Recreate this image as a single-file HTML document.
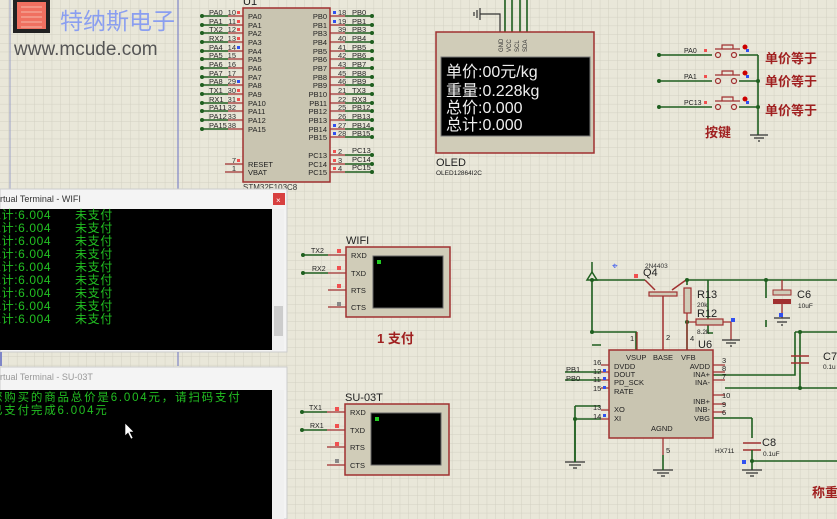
<!DOCTYPE html>
<html><head><meta charset="utf-8"><style>
html,body{margin:0;padding:0;width:837px;height:519px;overflow:hidden;background:#e9e7d9}
svg{display:block}
text{font-family:"Liberation Sans","Noto Sans CJK SC",sans-serif}
.s{font-size:8px;fill:#222}
.n{font-size:8px;fill:#333}
.g{stroke:#1f5f1f;stroke-width:1.6;fill:none}
.r{stroke:#a03030;stroke-width:1.3;fill:none}
.t{font-family:"Liberation Mono","Noto Sans CJK SC",monospace;font-size:12px;fill:#22c022}
</style></head><body>
<svg width="837" height="519" viewBox="0 0 837 519" xmlns="http://www.w3.org/2000/svg">
<defs>
<pattern id="grid" width="8.7" height="8.7" patternUnits="userSpaceOnUse">
<path d="M8.7 0V8.7H0" fill="none" stroke="#d2d0c2" stroke-width="1"/>
</pattern>
</defs>
<rect width="837" height="519" fill="#e9e7d9"/>
<rect width="837" height="519" fill="url(#grid)"/>
<line x1="178" y1="0" x2="178" y2="190" stroke="#7f86c8" stroke-width="1.2"/>
<line x1="10" y1="0" x2="10" y2="190" stroke="#9aa0c8" stroke-width="1"/>

<!-- logo -->
<rect x="13" y="0" width="37" height="33" fill="#222"/>
<rect x="17" y="2" width="29" height="27" fill="#f07060"/>
<path d="M21 7H42M21 12H42M21 17H42M21 22H42M21 27H42" stroke="#f4a090" stroke-width="1.5"/>
<text x="60" y="29" style="font-size:23px;fill:#8a9ef0">特纳斯电子</text>
<text x="14" y="55" style="font-size:19px;fill:#555">www.mcude.com</text>

<!-- STM32 -->
<text x="243" y="5" style="font-size:11px;fill:#222">U1</text>
<rect x="243" y="8" width="87" height="174" fill="#c9c5b1" stroke="#a03030" stroke-width="1.5"/>
<g>
<path class="g" d="M202 16H228M202 25H228M202 33H228M202 42H228M202 51H228M202 59H228M202 68H228M202 77H228M202 85H228M202 94H228M202 103H228M202 111H228M202 120H228M202 129H228"/>
<path class="r" d="M228 16H243M228 25H243M228 33H243M228 42H243M228 51H243M228 59H243M228 68H243M228 77H243M228 85H243M228 94H243M228 103H243M228 111H243M228 120H243M228 129H243M225 164H243M225 172H243"/>
<g fill="#1f5f1f"><circle cx="202" cy="16" r="2"/><circle cx="202" cy="25" r="2"/><circle cx="202" cy="33" r="2"/><circle cx="202" cy="42" r="2"/><circle cx="202" cy="51" r="2"/><circle cx="202" cy="59" r="2"/><circle cx="202" cy="68" r="2"/><circle cx="202" cy="77" r="2"/><circle cx="202" cy="85" r="2"/><circle cx="202" cy="94" r="2"/><circle cx="202" cy="103" r="2"/><circle cx="202" cy="111" r="2"/><circle cx="202" cy="120" r="2"/><circle cx="202" cy="129" r="2"/></g>
<g class="s" style="font-size:7.5px">
<text x="209" y="15">PA0</text><text x="209" y="24">PA1</text><text x="209" y="32">TX2</text><text x="209" y="41">RX2</text><text x="209" y="50">PA4</text><text x="209" y="58">PA5</text><text x="209" y="67">PA6</text><text x="209" y="76">PA7</text><text x="209" y="84">PA8</text><text x="209" y="93">TX1</text><text x="209" y="102">RX1</text><text x="209" y="110">PA11</text><text x="209" y="119">PA12</text><text x="209" y="128">PA15</text>
</g>
<g class="n" text-anchor="end" style="font-size:7.5px">
<text x="236" y="15">10</text><text x="236" y="24">11</text><text x="236" y="32">12</text><text x="236" y="41">13</text><text x="236" y="50">14</text><text x="236" y="58">15</text><text x="236" y="67">16</text><text x="236" y="76">17</text><text x="236" y="84">29</text><text x="236" y="93">30</text><text x="236" y="102">31</text><text x="236" y="110">32</text><text x="236" y="119">33</text><text x="236" y="128">38</text><text x="236" y="163">7</text><text x="236" y="171">1</text>
</g>
<g fill="#f05050"><rect x="237" y="11" width="3" height="3"/><rect x="237" y="20" width="3" height="3"/><rect x="237" y="28" width="3" height="3"/><rect x="237" y="37" width="3" height="3"/><rect x="237" y="89" width="3" height="3"/><rect x="237" y="98" width="3" height="3"/><rect x="237" y="159" width="3" height="3"/></g>
<g fill="#3050f0"><rect x="237" y="46" width="3" height="3"/><rect x="237" y="80" width="3" height="3"/></g>
<g class="s" style="font-size:7.5px">
<text x="248" y="19">PA0</text><text x="248" y="28">PA1</text><text x="248" y="36">PA2</text><text x="248" y="45">PA3</text><text x="248" y="54">PA4</text><text x="248" y="62">PA5</text><text x="248" y="71">PA6</text><text x="248" y="80">PA7</text><text x="248" y="88">PA8</text><text x="248" y="97">PA9</text><text x="248" y="106">PA10</text><text x="248" y="114">PA11</text><text x="248" y="123">PA12</text><text x="248" y="132">PA15</text><text x="248" y="167">RESET</text><text x="248" y="175">VBAT</text>
</g>
<g class="s" text-anchor="end" style="font-size:7.5px">
<text x="327" y="19">PB0</text><text x="327" y="28">PB1</text><text x="327" y="36">PB3</text><text x="327" y="45">PB4</text><text x="327" y="54">PB5</text><text x="327" y="62">PB6</text><text x="327" y="71">PB7</text><text x="327" y="80">PB8</text><text x="327" y="88">PB9</text><text x="327" y="97">PB10</text><text x="327" y="106">PB11</text><text x="327" y="114">PB12</text><text x="327" y="123">PB13</text><text x="327" y="132">PB14</text><text x="327" y="140">PB15</text><text x="327" y="158">PC13</text><text x="327" y="167">PC14</text><text x="327" y="175">PC15</text>
</g>
<path class="r" d="M330 16H345M330 25H345M330 33H345M330 42H345M330 51H345M330 59H345M330 68H345M330 77H345M330 85H345M330 94H345M330 103H345M330 111H345M330 120H345M330 129H345M330 137H345M330 155H345M330 164H345M330 172H345"/>
<path class="g" d="M345 16H372M345 25H372M345 33H372M345 42H372M345 51H372M345 59H372M345 68H372M345 77H372M345 85H372M345 94H372M345 103H372M345 111H372M345 120H372M345 129H372M345 137H372M345 155H372M345 164H372M345 172H372"/>
<g fill="#1f5f1f"><circle cx="372" cy="16" r="2"/><circle cx="372" cy="25" r="2"/><circle cx="372" cy="33" r="2"/><circle cx="372" cy="42" r="2"/><circle cx="372" cy="51" r="2"/><circle cx="372" cy="59" r="2"/><circle cx="372" cy="68" r="2"/><circle cx="372" cy="77" r="2"/><circle cx="372" cy="85" r="2"/><circle cx="372" cy="94" r="2"/><circle cx="372" cy="103" r="2"/><circle cx="372" cy="111" r="2"/><circle cx="372" cy="120" r="2"/><circle cx="372" cy="129" r="2"/><circle cx="372" cy="137" r="2"/><circle cx="372" cy="155" r="2"/><circle cx="372" cy="164" r="2"/><circle cx="372" cy="172" r="2"/></g>
<g class="n" style="font-size:7.5px">
<text x="338" y="15">18</text><text x="338" y="24">19</text><text x="338" y="32">39</text><text x="338" y="41">40</text><text x="338" y="50">41</text><text x="338" y="58">42</text><text x="338" y="67">43</text><text x="338" y="76">45</text><text x="338" y="84">46</text><text x="338" y="93">21</text><text x="338" y="102">22</text><text x="338" y="110">25</text><text x="338" y="119">26</text><text x="338" y="128">27</text><text x="338" y="136">28</text><text x="338" y="154">2</text><text x="338" y="163">3</text><text x="338" y="171">4</text>
</g>
<g class="s" style="font-size:7.5px">
<text x="352" y="15">PB0</text><text x="352" y="24">PB1</text><text x="352" y="32">PB3</text><text x="352" y="41">PB4</text><text x="352" y="50">PB5</text><text x="352" y="58">PB6</text><text x="352" y="67">PB7</text><text x="352" y="76">PB8</text><text x="352" y="84">PB9</text><text x="352" y="93">TX3</text><text x="352" y="102">RX3</text><text x="352" y="110">PB12</text><text x="352" y="119">PB13</text><text x="352" y="128">PB14</text><text x="352" y="136">PB15</text><text x="352" y="153">PC13</text><text x="352" y="162">PC14</text><text x="352" y="170">PC15</text>
</g>
<g fill="#3050f0"><rect x="333" y="11" width="3" height="3"/><rect x="333" y="20" width="3" height="3"/><rect x="333" y="124" width="3" height="3"/><rect x="333" y="132" width="3" height="3"/></g>
<g fill="#f05050"><rect x="333" y="150" width="3" height="3"/><rect x="333" y="159" width="3" height="3"/><rect x="333" y="167" width="3" height="3"/></g>
</g>
<text x="243" y="190" style="font-size:8px;fill:#333">STM32F103C8</text>

<!-- OLED -->
<path class="g" d="M505 0V32M512 0V32M520 0V32M527 0V32"/>
<path d="M480 14H500V32" stroke="#333" fill="none" stroke-width="1.2"/>
<path d="M480 8V20M477 10V18M474 12V16" stroke="#333" stroke-width="1.2"/>
<rect x="436" y="32" width="158" height="121" fill="#d0ccb8" stroke="#a03030" stroke-width="1.5"/>
<g style="font-size:6px;fill:#333"><text transform="translate(503,52) rotate(-90)">GND</text><text transform="translate(511,52) rotate(-90)">VCC</text><text transform="translate(519,52) rotate(-90)">SCL</text><text transform="translate(527,52) rotate(-90)">SDA</text></g>
<rect x="441" y="57" width="149" height="79" fill="#000" stroke="#777"/>
<g style="font-family:'Liberation Mono','Noto Sans CJK SC',monospace;font-size:16px;fill:#eee">
<text x="446" y="77">单价:00元/kg</text>
<text x="446" y="96">重量:0.228kg</text>
<text x="446" y="113">总价:0.000</text>
<text x="446" y="130">总计:0.000</text>
</g>
<text x="436" y="166" style="font-size:11px;fill:#222">OLED</text>
<text x="436" y="175" style="font-size:6.5px;fill:#222">OLED12864I2C</text>

<!-- buttons -->
<g>
<path class="g" d="M659 55H712M659 81H712M659 107H712M739 55H758M739 81H758M739 107H758M758 55V135"/>
<g fill="#1f5f1f"><circle cx="659" cy="55" r="2"/><circle cx="659" cy="81" r="2"/><circle cx="659" cy="107" r="2"/><circle cx="758" cy="81" r="2"/><circle cx="758" cy="107" r="2"/></g>
<g fill="#e9e7d9" stroke="#a03030" stroke-width="1.2">
<circle cx="718" cy="55" r="2.5"/><circle cx="734" cy="55" r="2.5"/><circle cx="718" cy="81" r="2.5"/><circle cx="734" cy="81" r="2.5"/><circle cx="718" cy="107" r="2.5"/><circle cx="734" cy="107" r="2.5"/>
<path d="M715 49H740M722 49V45H733V49M715 75H740M722 75V71H733V75M715 101H740M722 101V97H733V101" fill="none"/>
</g>
<g fill="#c00"><circle cx="745" cy="47" r="2.5"/><circle cx="745" cy="73" r="2.5"/><circle cx="745" cy="99" r="2.5"/></g>
<g fill="#3050f0"><rect x="746" y="49" width="3" height="3"/><rect x="746" y="75" width="3" height="3"/><rect x="746" y="101" width="3" height="3"/></g>
<g fill="#f05050"><rect x="704" y="49" width="3" height="3"/><rect x="704" y="75" width="3" height="3"/><rect x="704" y="101" width="3" height="3"/></g>
<g style="font-size:7px;fill:#222"><text x="684" y="53">PA0</text><text x="684" y="79">PA1</text><text x="684" y="105">PC13</text></g>
<path d="M750 135H768M754 138H764M758 141H760" stroke="#333" stroke-width="1.2"/>
<g style="font-size:13px;font-weight:bold;fill:#a02020"><text x="765" y="63">单价等于</text><text x="765" y="86">单价等于</text><text x="765" y="115">单价等于</text><text x="705" y="137">按键</text></g>
</g>

<!-- WIFI terminal -->
<text x="346" y="244" style="font-size:11px;fill:#222">WIFI</text>
<path class="g" d="M303 255H328M303 273H328"/>
<path class="r" d="M328 255H346M328 273H346M328 290H346M328 307H346"/>
<g fill="#1f5f1f"><circle cx="303" cy="255" r="2"/><circle cx="303" cy="273" r="2"/></g>
<g style="font-size:7px;fill:#222"><text x="311" y="253">TX2</text><text x="312" y="271">RX2</text></g>
<g fill="#f05050"><rect x="337" y="249" width="4" height="4"/><rect x="337" y="266" width="4" height="4"/><rect x="337" y="284" width="4" height="4"/></g>
<rect x="337" y="302" width="4" height="4" fill="#888"/>
<rect x="346" y="247" width="104" height="70" fill="#d0ccb8" stroke="#a03030" stroke-width="1.5"/>
<rect x="373" y="256" width="70" height="52" fill="#000" stroke="#666"/>
<rect x="377" y="260" width="4" height="4" fill="#2c2"/>
<g style="font-size:7.5px;fill:#222"><text x="351" y="258">RXD</text><text x="351" y="276">TXD</text><text x="351" y="293">RTS</text><text x="351" y="310">CTS</text></g>
<text x="377" y="343" style="font-size:13px;font-weight:bold;fill:#a02020">1 支付</text>

<!-- SU-03T terminal -->
<text x="345" y="401" style="font-size:11px;fill:#222">SU-03T</text>
<path class="g" d="M302 412H327M302 430H327"/>
<path class="r" d="M327 412H345M327 430H345M327 447H345M327 465H345"/>
<g fill="#1f5f1f"><circle cx="302" cy="412" r="2"/><circle cx="302" cy="430" r="2"/></g>
<g style="font-size:7px;fill:#222"><text x="309" y="410">TX1</text><text x="310" y="428">RX1</text></g>
<g fill="#f05050"><rect x="335" y="407" width="4" height="4"/><rect x="335" y="424" width="4" height="4"/><rect x="335" y="442" width="4" height="4"/></g>
<rect x="335" y="459" width="4" height="4" fill="#888"/>
<rect x="345" y="404" width="104" height="71" fill="#d0ccb8" stroke="#a03030" stroke-width="1.5"/>
<rect x="371" y="413" width="70" height="52" fill="#000" stroke="#666"/>
<rect x="375" y="417" width="4" height="4" fill="#2c2"/>
<g style="font-size:7.5px;fill:#222"><text x="350" y="415">RXD</text><text x="350" y="433">TXD</text><text x="350" y="450">RTS</text><text x="350" y="468">CTS</text></g>

<!-- HX711 area -->
<g>
<path class="g" d="M592 280V332H636V350M592 280H645M686 280H837M592 345H601M687 280V285M687 320V350M708 280V333H713M766 280V298M766 320V327M575 406V462M575 406H600M575 419H601M795 332H837M795 332V375H713M725 388H837M800 332V388M668 418H752M752 418V438M752 461H837"/>
<path class="g" d="M565 372H601M565 380H601"/>
<path d="M592 272L587 280H597Z" fill="none" stroke="#1f5f1f" stroke-width="1.5"/>
<line x1="592" y1="262" x2="592" y2="272" stroke="#1f5f1f" stroke-width="1.5"/>
<text x="612" y="269" style="font-size:10px;fill:#3050f0">⌖</text>
<text x="645" y="268" style="font-size:6.5px;fill:#333">2N4403</text>
<text x="643" y="276" style="font-size:11px;fill:#222">Q4</text>
<rect x="634" y="274" width="4" height="4" fill="#f05050"/>
<path d="M645 280L655 290M686 280L672 290" stroke="#a03030" stroke-width="1.5" fill="none"/>
<rect x="649" y="292" width="28" height="4" fill="#d0ccb8" stroke="#a03030" stroke-width="1.2"/>
<path class="r" d="M663 296V350"/>
<text x="666" y="340" style="font-size:7.5px;fill:#222">2</text>
<rect x="684" y="288" width="7" height="25" fill="#d0ccb8" stroke="#a03030" stroke-width="1.2"/>
<text x="697" y="298" style="font-size:11px;fill:#222">R13</text>
<text x="697" y="307" style="font-size:6.5px;fill:#222">20k</text>
<text x="697" y="317" style="font-size:11px;fill:#222">R12</text>
<rect x="696" y="319" width="27" height="6" fill="#d0ccb8" stroke="#a03030" stroke-width="1.2"/>
<path class="r" d="M687 322H696M723 322H731V340"/>
<path d="M722 340H740M726 343H736M730 346H732" stroke="#333" stroke-width="1.2"/>
<rect x="731" y="318" width="4" height="4" fill="#3050f0"/>
<text x="697" y="334" style="font-size:6.5px;fill:#222">8.2k</text>
<g fill="#1f5f1f"><circle cx="592" cy="280" r="2"/><circle cx="592" cy="332" r="2"/><circle cx="687" cy="280" r="2"/><circle cx="687" cy="322" r="2"/><circle cx="766" cy="280" r="2"/><circle cx="800" cy="332" r="2"/><circle cx="800" cy="388" r="2"/><circle cx="575" cy="419" r="2"/><circle cx="752" cy="461" r="2"/></g>
<rect x="773" y="290" width="18" height="5" fill="#d0ccb8" stroke="#a03030"/>
<rect x="773" y="299" width="18" height="5" fill="#a03030"/>
<path class="r" d="M782 280V290M782 304V318"/>
<path d="M774 318H790M777 322H787M781 325H783" stroke="#333" stroke-width="1.2"/>
<rect x="779" y="313" width="4" height="4" fill="#3050f0"/>
<text x="797" y="298" style="font-size:11px;fill:#222">C6</text>
<text x="798" y="308" style="font-size:6.5px;fill:#222">10uF</text>
<path d="M791 356H809M791 363H809" stroke="#a03030" stroke-width="1.5"/>
<text x="823" y="360" style="font-size:11px;fill:#222">C7</text>
<text x="823" y="369" style="font-size:6.5px;fill:#222">0.1u</text>
<text x="698" y="348" style="font-size:11px;fill:#222">U6</text>
<path class="r" d="M637 332V350M663 296V350M687 313V350M601 365H609M601 372H609M601 380H609M601 388H609M601 410H609M601 419H609M713 365H725M713 372H725M713 380H725M713 395H725M713 404H725M713 412H725M663 438V455"/>
<text x="630" y="341" style="font-size:7.5px;fill:#222">1</text>
<text x="690" y="341" style="font-size:7.5px;fill:#222">4</text>
<rect x="609" y="350" width="104" height="88" fill="#c9c5b1" stroke="#a03030" stroke-width="1.5"/>
<g style="font-size:7.5px;fill:#222">
<text x="626" y="360">VSUP</text><text x="653" y="360">BASE</text><text x="681" y="360">VFB</text>
<text x="614" y="369">DVDD</text><text x="614" y="377">DOUT</text><text x="614" y="385">PD_SCK</text><text x="614" y="394">RATE</text><text x="614" y="412">XO</text><text x="614" y="421">XI</text><text x="651" y="431">AGND</text>
<text x="710" y="369" text-anchor="end">AVDD</text><text x="710" y="377" text-anchor="end">INA+</text><text x="710" y="385" text-anchor="end">INA-</text><text x="710" y="404" text-anchor="end">INB+</text><text x="710" y="412" text-anchor="end">INB-</text><text x="710" y="421" text-anchor="end">VBG</text>
<text x="593" y="365">16</text><text x="593" y="374">12</text><text x="593" y="382">11</text><text x="593" y="391">15</text><text x="593" y="410">13</text><text x="593" y="419">14</text>
<text x="722" y="363">3</text><text x="722" y="371">8</text><text x="722" y="379">7</text><text x="722" y="398">10</text><text x="722" y="407">9</text><text x="722" y="415">6</text><text x="666" y="453">5</text>
<text x="566" y="372">PB1</text><text x="566" y="381">PB0</text>
</g>
<g fill="#3050f0"><rect x="603" y="369" width="3" height="3"/><rect x="603" y="377" width="3" height="3"/><rect x="603" y="386" width="3" height="3"/><rect x="603" y="414" width="3" height="3"/><rect x="742" y="460" width="4" height="4"/></g>
<path d="M743 443H761M743 450H761" stroke="#a03030" stroke-width="1.5"/>
<path class="g" d="M752 450V470"/>
<text x="762" y="446" style="font-size:11px;fill:#222">C8</text>
<text x="763" y="456" style="font-size:6.5px;fill:#222">0.1uF</text>
<text x="715" y="453" style="font-size:6.5px;fill:#222">HX711</text>
<path d="M565 462H585M569 465H581M573 468H577M653 470H673M657 473H669M661 476H665M742 470H762M746 473H758M750 476H754" stroke="#333" stroke-width="1.2"/>
<path class="g" d="M575 419V462M663 455V470"/>
<text x="812" y="497" style="font-size:13px;font-weight:bold;fill:#a02020">称重</text>
</g>

<!-- WIFI window -->
<rect x="0" y="189" width="287" height="163" fill="#f4f4f4" stroke="#ccc"/>
<text x="0" y="202" style="font-size:9px;fill:#333">rtual Terminal - WIFI</text>
<rect x="273" y="193" width="12" height="12" fill="#d84040"/>
<text x="276" y="203" style="font-size:8px;fill:#fff">×</text>
<rect x="0" y="209" width="272" height="141" fill="#000"/>
<rect x="272" y="209" width="12" height="141" fill="#f0f0f0"/>
<rect x="274" y="306" width="9" height="30" fill="#ccc"/>
<g class="t" style="letter-spacing:0.6px">
<text x="-11" y="219">总计:6.004</text><text x="75" y="219">未支付</text>
<text x="-11" y="232">总计:6.004</text><text x="75" y="232">未支付</text>
<text x="-11" y="245">总计:6.004</text><text x="75" y="245">未支付</text>
<text x="-11" y="258">总计:6.004</text><text x="75" y="258">未支付</text>
<text x="-11" y="271">总计:6.004</text><text x="75" y="271">未支付</text>
<text x="-11" y="284">总计:6.004</text><text x="75" y="284">未支付</text>
<text x="-11" y="297">总计:6.004</text><text x="75" y="297">未支付</text>
<text x="-11" y="310">总计:6.004</text><text x="75" y="310">未支付</text>
<text x="-11" y="323">总计:6.004</text><text x="75" y="323">未支付</text>
</g>
<line x1="1" y1="352" x2="1" y2="366" stroke="#7f86c8" stroke-width="2"/>
<line x1="178" y1="352" x2="178" y2="366" stroke="#7f86c8" stroke-width="1.2"/>
<!-- SU-03T window -->
<rect x="0" y="367" width="287" height="152" fill="#f4f4f4" stroke="#ccc"/>
<text x="0" y="380" style="font-size:9px;fill:#999">rtual Terminal - SU-03T</text>
<rect x="0" y="390" width="272" height="129" fill="#000"/>
<rect x="272" y="390" width="12" height="129" fill="#f0f0f0"/>
<g class="t" style="font-size:11.5px;letter-spacing:1.8px">
<text x="-9" y="401">您购买的商品总价是6.004元，请扫码支付</text>
<text x="-9" y="414">已支付完成6.004元</text>
</g>
<path d="M125 423V436L128 433L131 439L133 438L130 432H134Z" fill="#fff" stroke="#000" stroke-width="0.6"/>
</svg>
</body></html>
